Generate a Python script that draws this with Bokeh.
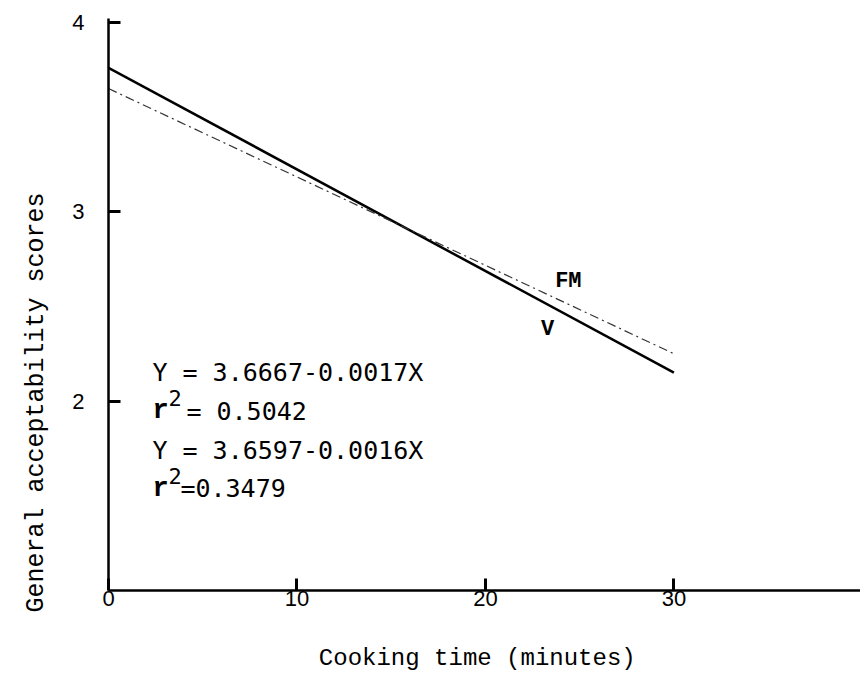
import math
from bokeh.plotting import figure
from bokeh.models import Range1d, FixedTicker, Label, Title
from bokeh.embed import file_html
from bokeh.resources import INLINE

# ---- data ----
time_min = [0, 30]
v_scores = [3.76, 2.15]      # solid line "V"
fm_scores = [3.65, 2.25]     # dash-dot line "FM"
x_ticks = [0, 10, 20, 30]
y_ticks = [2, 3, 4]
eq_texts = ["Y = 3.6667-0.0017X", "= 0.5042", "Y = 3.6597-0.0016X", "=0.3479"]

MONO = "DejaVu Sans Mono"
COUR = "Liberation Mono"
INK = "black"

p = figure(width=860, height=677, output_backend="svg", toolbar_location=None,
           x_range=Range1d(0, 39.9), y_range=Range1d(1.0, 4.02),
           min_border_left=108, min_border_right=0, min_border_top=18,
           min_border_bottom=87, background_fill_color="white",
           border_fill_color="white")
p.outline_line_color = None
p.grid.visible = False

# axes
for ax in (p.xaxis[0], p.yaxis[0]):
    ax.axis_line_width = 2.5
    ax.axis_line_color = INK
    ax.major_tick_line_color = INK
    ax.major_tick_in = 12
    ax.major_tick_out = 0
    ax.major_tick_line_width = 3
    ax.minor_tick_line_color = None
    ax.major_label_text_font = "Liberation Sans"
    ax.major_label_text_font_size = "22px"
    ax.major_label_text_color = INK
    ax.axis_label_text_color = INK
    ax.axis_label_text_font = COUR
    ax.axis_label_text_font_style = "normal"

p.xaxis[0].ticker = FixedTicker(ticks=x_ticks)
p.xaxis[0].major_label_standoff = 0
p.xaxis[0].axis_label = "Cooking time  (minutes)"
p.xaxis[0].axis_label_text_font_size = "24px"
p.xaxis[0].axis_label_standoff = 36

p.yaxis[0].ticker = FixedTicker(ticks=y_ticks)
p.yaxis[0].major_label_standoff = 24

# y title, shifted down along the axis as in the reference
p.add_layout(Title(text="General acceptability scores", align="left",
                   offset=-22, standoff=38, text_font=COUR,
                   text_font_size="25px", text_font_style="normal",
                   text_color=INK), "left")

# lines
p.line(time_min, v_scores, line_color=INK, line_width=2.5)
p.line(time_min, fm_scores, line_color="#333333", line_width=1.2,
       line_dash="9 4 2 4")

# series labels
p.add_layout(Label(x=24.4, y=2.63, text="FM", text_font=COUR,
                   text_font_size="22px", text_font_style="bold",
                   text_color=INK, text_align="center", text_baseline="middle"))
p.add_layout(Label(x=23.3, y=2.38, text="V", text_font=COUR,
                   text_font_size="22px", text_font_style="bold",
                   text_color=INK, text_align="center", text_baseline="middle"))

# equations
bx = 2.33
ys = [2.153, 1.947, 1.737, 1.537]
p.add_layout(Label(x=bx, y=ys[0], text=eq_texts[0], text_font=MONO,
                   text_font_size="25px", text_color=INK,
                   text_baseline="alphabetic"))
p.add_layout(Label(x=bx, y=ys[2], text=eq_texts[2], text_font=MONO,
                   text_font_size="25px", text_color=INK,
                   text_baseline="alphabetic"))
for yy, txt, off in ((ys[1], eq_texts[1], 34), (ys[3], eq_texts[3], 28)):
    p.add_layout(Label(x=bx, y=yy, text="r", text_font=COUR,
                       text_font_size="27px", text_font_style="bold",
                       text_color=INK, text_baseline="alphabetic"))
    p.add_layout(Label(x=bx, y=yy, x_offset=16, y_offset=13, text="2",
                       text_font=MONO, text_font_size="22px", text_color=INK,
                       text_baseline="alphabetic"))
    p.add_layout(Label(x=bx, y=yy, x_offset=off, text=txt, text_font=MONO,
                       text_font_size="25px", text_color=INK,
                       text_baseline="alphabetic"))

open("out.html", "w").write(file_html(p, INLINE))
